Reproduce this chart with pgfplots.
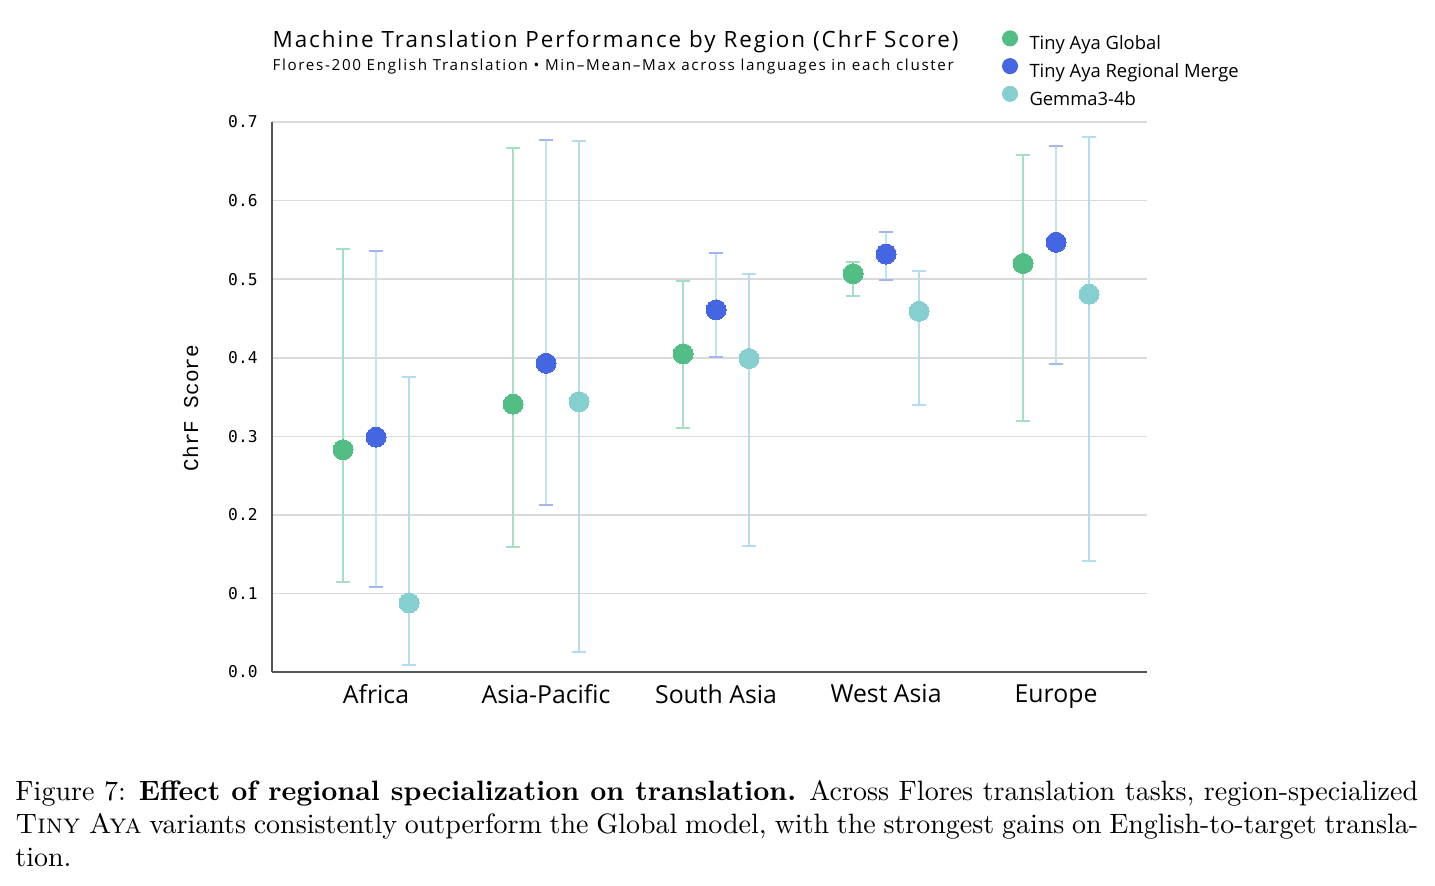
\documentclass[border=0pt]{standalone}
\usepackage{fontspec}
\usepackage{pgfplots}
\usepackage{pgfplotstable}
\pgfplotsset{compat=1.18}
\hyphenation{transla-tion}
\newfontfamily\sansf{Open Sans}
\newfontfamily\titlef{Open Sans}[LetterSpace=9]
\newfontfamily\subf{Open Sans}[LetterSpace=11]
\newfontfamily\monof{DejaVu Sans Mono}
\newfontfamily\ylabf{Liberation Mono}
\definecolor{cG}{HTML}{52BD84}
\definecolor{cR}{HTML}{4566E3}
\definecolor{cM}{HTML}{86CFD0}
\definecolor{eG}{HTML}{A6E0C4}
\definecolor{eR}{HTML}{BEE5EA}
\definecolor{eRc}{HTML}{A3B5F2}
\definecolor{eM}{HTML}{B3DDEE}
\definecolor{gridc}{HTML}{DADADA}
\definecolor{axc}{HTML}{555555}

\pgfplotstableread{
x mean min max
-0.194 0.283 0.115 0.538
0.806 0.341 0.159 0.667
1.806 0.405 0.311 0.498
2.806 0.507 0.479 0.522
3.806 0.520 0.320 0.658
}\tblglobal

\pgfplotstableread{
x mean min max
0 0.299 0.108 0.536
1 0.393 0.212 0.677
2 0.461 0.401 0.533
3 0.532 0.499 0.560
4 0.547 0.392 0.670
}\tblregional

\pgfplotstableread{
x mean min max
0.194 0.088 0.009 0.375
1.194 0.344 0.025 0.676
2.194 0.399 0.161 0.507
3.194 0.459 0.340 0.510
4.194 0.481 0.141 0.681
}\tblgemma

\begin{document}
\begin{tikzpicture}
\useasboundingbox (-102pt,-79.875pt) rectangle (436.125pt,252pt);
\begin{axis}[
  at={(0pt,0pt)}, anchor=south west,
  scale only axis, width=328.125pt, height=206.25pt,
  xmin=-0.612, xmax=4.535, ymin=0, ymax=0.7,
  axis lines*=left,
  axis line style={axc, line width=0.6pt},
  ymajorgrids, grid style={gridc, line width=0.6pt},
  major tick length=0pt,
  xtick={0,1,2,3,4},
  xticklabels={Africa, Asia-Pacific, South Asia, West Asia, Europe},
  xticklabel style={font=\sansf\fontsize{9.3}{11}\selectfont, inner sep=0pt, anchor=north, yshift=-4.5pt},
  ytick={0,0.1,...,0.7},
  /pgf/number format/assume math mode=true,
  yticklabel={\pgfmathprintnumber[fixed, fixed zerofill, precision=1]{\tick}},
  yticklabel style={font=\monof\fontsize{6.1}{7.5}\selectfont, inner sep=0pt, anchor=east, xshift=-5.2pt},
  ylabel={ChrF Score},
  ylabel style={font=\ylabf\fontsize{7.9}{9}\selectfont, at={(axis description cs:-0.093,0.48)}, anchor=center, rotate=0},
  clip=false,
  legend style={at={(axis description cs:0.8337,1.1676)}, anchor=north west, draw=none, fill=none, inner sep=0pt,
    font=\sansf\fontsize{6.9}{8}\selectfont, row sep=1.65pt, column sep=0pt,
    nodes={inner sep=0pt, text height=5.1pt, text depth=1.5pt}},
  legend cell align=left,
  legend image code/.code={\fill[#1] (2.8pt,2.45pt) circle (2.8pt); \path (0pt,0pt) (9.9pt,0pt);},
]
\addlegendimage{cG, fill=cG}
\addlegendentry{Tiny Aya Global}
\addlegendimage{cR, fill=cR}
\addlegendentry{Tiny Aya Regional Merge}
\addlegendimage{cM, fill=cM}
\addlegendentry{Gemma3-4b}

\addplot[cG, only marks, mark=*, mark size=3.75pt, mark options={draw=cG, fill=cG, line width=0pt},
  error bars/.cd, y dir=both, y explicit,
  error bar style={eG, line width=0.75pt},
  error mark options={eG, rotate=90, mark size=2.6pt, line width=0.75pt}]
  table[x=x, y=mean, y error plus expr=\thisrow{max}-\thisrow{mean}, y error minus expr=\thisrow{mean}-\thisrow{min}] {\tblglobal};
\addplot[cR, only marks, mark=*, mark size=3.75pt, mark options={draw=cR, fill=cR, line width=0pt},
  error bars/.cd, y dir=both, y explicit,
  error bar style={eR, line width=0.75pt},
  error mark options={eRc, rotate=90, mark size=2.6pt, line width=0.75pt}]
  table[x=x, y=mean, y error plus expr=\thisrow{max}-\thisrow{mean}, y error minus expr=\thisrow{mean}-\thisrow{min}] {\tblregional};
\addplot[cM, only marks, mark=*, mark size=3.75pt, mark options={draw=cM, fill=cM, line width=0pt},
  error bars/.cd, y dir=both, y explicit,
  error bar style={eM, line width=0.75pt},
  error mark options={eM, rotate=90, mark size=2.6pt, line width=0.75pt}]
  table[x=x, y=mean, y error plus expr=\thisrow{max}-\thisrow{mean}, y error minus expr=\thisrow{mean}-\thisrow{min}] {\tblgemma};
\end{axis}
\node[anchor=base west, inner sep=0pt, font=\titlef\fontsize{8.4}{10}\selectfont] at (0pt,234.3pt)
  {Machine Translation Performance by Region (ChrF Score)};
\node[anchor=base west, inner sep=0pt, font=\subf\fontsize{5.7}{7}\selectfont] at (0pt,225.75pt)
  {Flores-200 English Translation • Min–Mean–Max across languages in each cluster};
\node[anchor=north west, inner sep=0pt, text width=526pt, align=justify, font=\fontsize{10.5}{12.4}\selectfont] at (-96.4pt,-40.3pt)
  {Figure 7: \textbf{Effect of regional specialization on translation.} Across Flores translation tasks, region-specialized \textsc{Tiny Aya} variants consistently outperform the Global model, with the strongest gains on English-to-target translation.};
\end{tikzpicture}
\end{document}
